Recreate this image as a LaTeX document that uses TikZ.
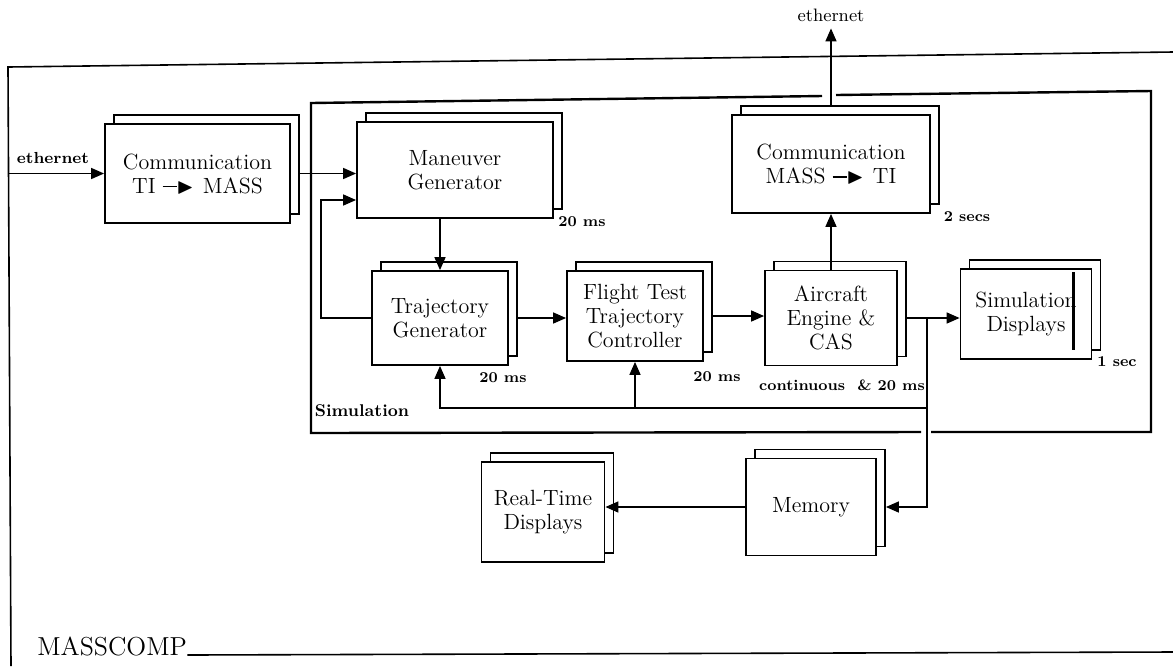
\documentclass[tikz,border=0pt]{standalone}
\usepackage{amsmath,amssymb}
\usepackage{tikz}
\usetikzlibrary{calc,arrows.meta,shadows}
\tikzset{
  ar/.style={-{Triangle[length=6.5pt,width=5.5pt]},line width=0.75pt},
  blk/.style={draw,line width=0.9pt,fill=white,align=center,inner sep=0pt,
    font=\fontsize{11}{12}\selectfont,
    copy shadow={shadow xshift=4.5pt,shadow yshift=4.5pt,draw,line width=0.8pt,fill=white}},
  tag/.style={font=\fontsize{7.5}{8}\selectfont\bfseries,inner sep=1pt},
  frm/.style={line width=0.8pt}
}
\newcommand{\sendarr}{\ \rule[0.6ex]{7pt}{0.8pt}\smash{$\blacktriangleright$}\kern1pt\ }

\begin{document}
\begin{tikzpicture}[x=0.5pt,y=-0.5pt]
\useasboundingbox (0,0) rectangle (1173,666);
% MASSCOMP frame
\draw[frm] (1173,52) -- (8,67) -- (11,666);
\node[font=\fontsize{13}{14}\selectfont,anchor=base west,inner sep=0pt] (mc) at (37,655) {MASSCOMP};
\draw[frm] (mc.base east) -- (1173,652);
% simulation frame
\draw[line width=1.2pt] (921,432) -- (311,433) -- (311,103) -- (822,96);
\draw[line width=1.2pt] (836,95) -- (1151,91) -- (1151,432) -- (931,432);
\node[tag,font=\fontsize{8.5}{9}\selectfont\bfseries] (sim) at (362,411) {Simulation};
% blocks
\node[blk,minimum width=92.5pt,minimum height=49.5pt] (comti) at (197.5,173.5) {Communication\\TI\sendarr MASS};
\node[blk,minimum width=98pt,minimum height=48pt] (man) at (455,170) {Maneuver\\Generator};
\node[blk,minimum width=99pt,minimum height=49pt] (commass) at (831,164) {Communication\\MASS\sendarr TI};
\node[blk,minimum width=68pt,minimum height=47pt] (traj) at (440,318) {Trajectory\\Generator};
\node[blk,minimum width=68pt,minimum height=45pt] (flt) at (635,316) {Flight Test\\Trajectory\\Controller};
\node[blk,minimum width=66pt,minimum height=47.5pt] (acft) at (831,318) {Aircraft\\Engine \&\\CAS};
\node[blk,minimum width=65.5pt,minimum height=45pt] (simd) at (1026,314) {Simulation\\Displays};
\node[blk,minimum width=61.5pt,minimum height=50pt] (rtd) at (543,512) {Real-Time\\Displays};
\node[blk,minimum width=65pt,minimum height=48.5pt] (mem) at (811,507) {Memory};
\draw[line width=1.2pt] ([xshift=-9.5pt,yshift=-2pt]simd.north east) -- ([xshift=-9.5pt,yshift=5pt]simd.south east);
% rates
\node[tag] (rman) at (582,222) {20 ms};
\node[tag] (rcom) at (967,217) {2 secs};
\node[tag] (rtraj) at (503,378) {20 ms};
\node[tag] (rflt) at (717,377) {20 ms};
\node[tag] (racft) at (842,385) {continuous\ \ \& 20 ms};
\node[tag] (rsim) at (1117,362) {1 sec};
% ethernet
\node[font=\fontsize{8}{9}\selectfont\bfseries,inner sep=1pt] (ethl) at (53,158) {ethernet};
\node[font=\fontsize{9}{10}\selectfont] (etht) at (831,15) {ethernet};
\coordinate (ein) at (8.5,173.5);
\draw[ar] (ein) -- (comti.west);
\draw[ar] ([yshift=4.5pt]commass.north) -- (etht.south);
% flow
\draw[ar] ([xshift=4.5pt]comti.east) -- (comti.east -| man.west);
\draw[ar] (man.south -| traj.north) -- (traj.north);
\draw[ar] (traj.west) -- ++(-50,0) |- ([yshift=-15pt]man.west);
\draw[ar] ([xshift=4.5pt]traj.east) -- (traj.east -| flt.west);
\draw[ar] ([xshift=4.5pt]flt.east) -- (flt.east -| acft.west);
\draw[ar] ([xshift=4.5pt]acft.east) -- (acft.east -| simd.west);
\draw[ar] (acft.north) -- (commass.south);
% feedback and memory
\coordinate (jn) at ($(acft.east)+(29,0)$);
\coordinate (fbrow) at (0,408);
\draw[ar] (jn) |- ([xshift=4.5pt]mem.east);
\draw[ar] (jn |- fbrow) -| (traj.south);
\draw[ar] (flt.south |- fbrow) -- (flt.south);
\draw[ar] (mem.west) -- (mem.west -| rtd.east);
\end{tikzpicture}
\end{document}
